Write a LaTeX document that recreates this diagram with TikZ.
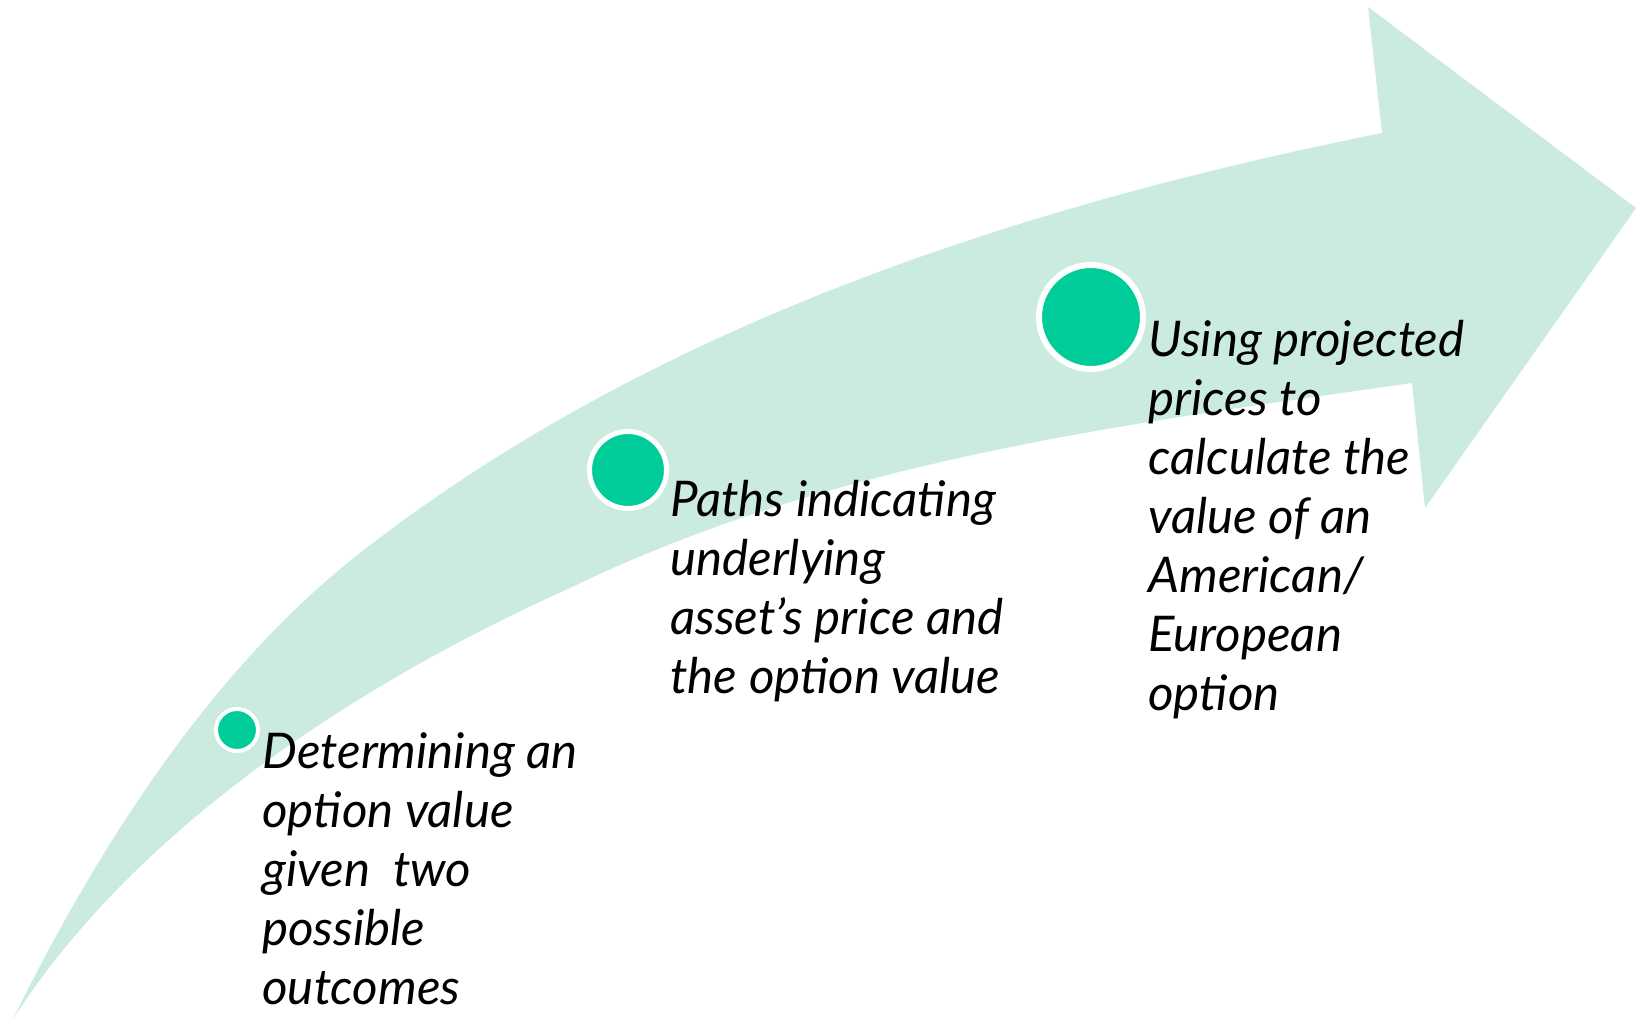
\documentclass[tikz,border=0pt]{standalone}
\usepackage{fontspec}
\setmainfont{Lato}
\definecolor{arrowfill}{HTML}{CAEBDE}
\definecolor{dotgreen}{HTML}{00CC99}
\begin{document}
\begin{tikzpicture}[x=0.5pt,y=-0.5pt,
  dot/.style={circle, fill=dotgreen, draw=white, inner sep=0pt},
  label/.style={anchor=base west, inner sep=0pt, font=\itshape\fontsize{24.6}{29.5}\selectfont}]
\useasboundingbox (0,0) rectangle (1637,1020);
% curved arrow
\fill[arrowfill] (13,1019)
  .. controls (97,849) and (210,670) .. (360,553)
  .. controls (652,325) and (1019,206) .. (1382,133)
  -- (1368,7) -- (1636,208) -- (1425,508) -- (1412,383)
  .. controls (1125,424) and (834,460) .. (570,588)
  .. controls (361,682) and (137,826) .. (13,1019)
  -- cycle;
% dots
\node[dot, line width=2pt, minimum size=21pt] (d1) at (237,730) {};
\node[dot, line width=2.5pt, minimum size=38.5pt] (d2) at (628,470) {};
\node[dot, line width=3pt, minimum size=52pt] (d3) at (1091,317) {};
% labels
\node[label] (t1) at (262,768) {\parbox[t]{300pt}{\raggedright Determining an\\option value\\given\ \ two\\possible\\outcomes}};
\node[label] (t2) at (670,517) {\parbox[t]{300pt}{\raggedright Paths indicating\\underlying\\asset’s price and\\the option value}};
\node[label] (t3) at (1148,357) {\parbox[t]{300pt}{\raggedright Using projected\\prices to\\calculate the\\value of an\\American/\\European\\option}};
\end{tikzpicture}
\end{document}
